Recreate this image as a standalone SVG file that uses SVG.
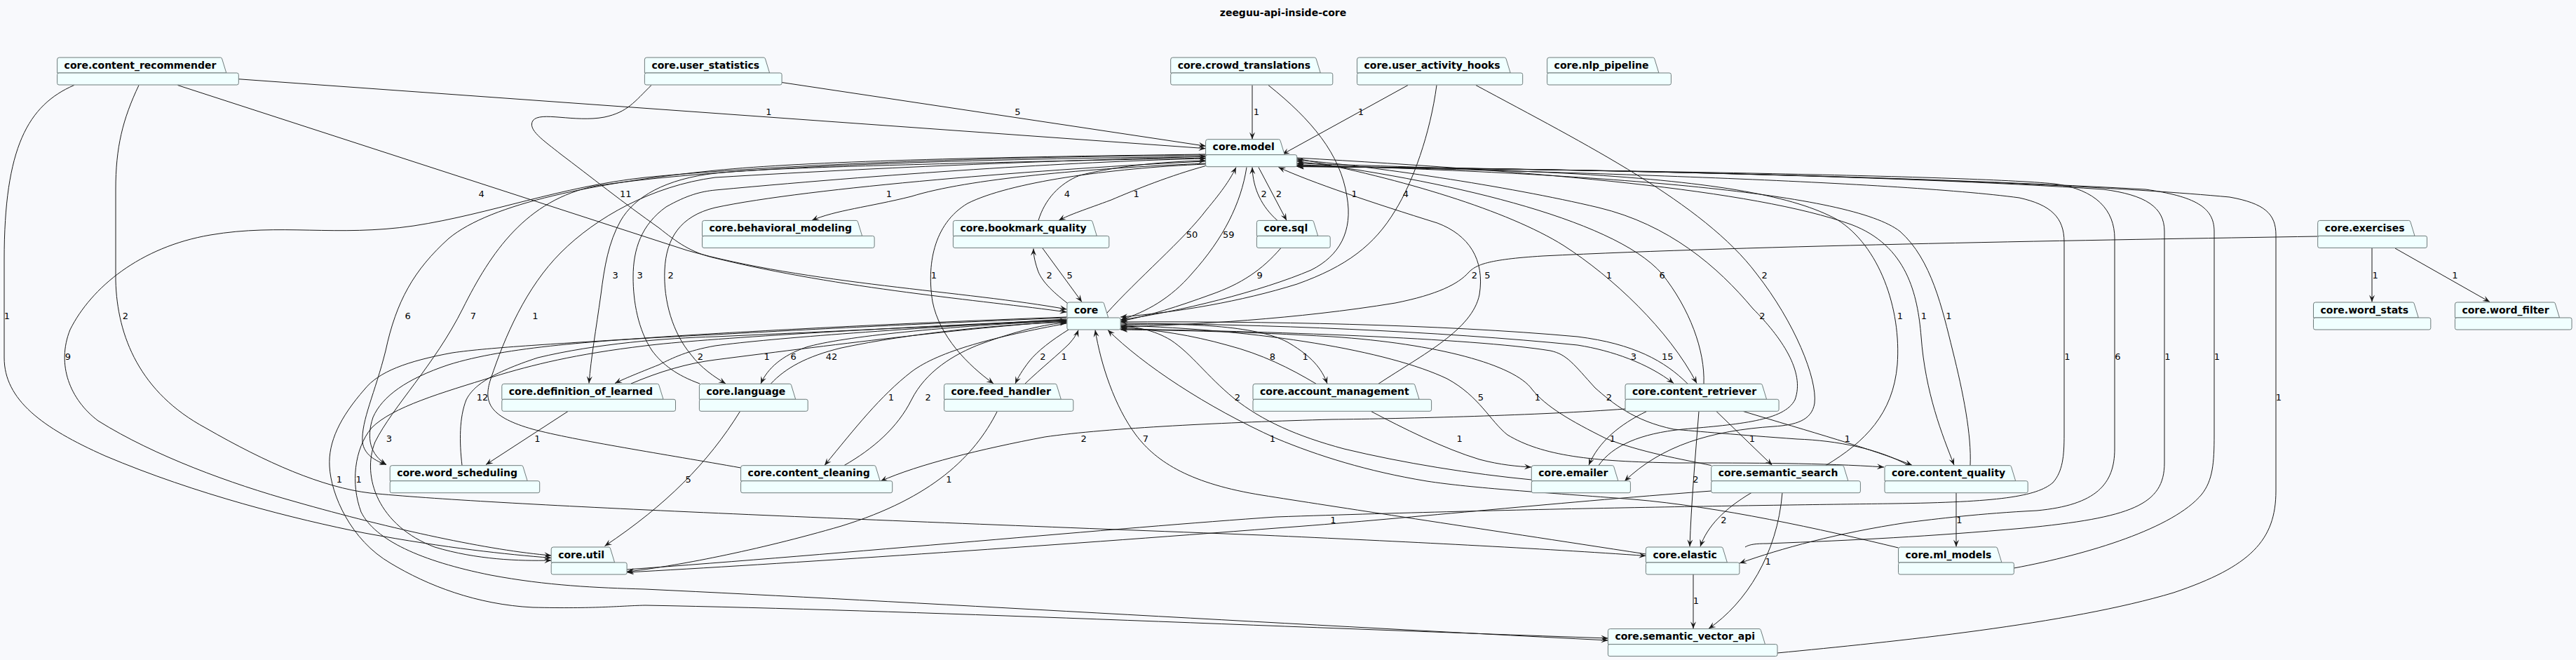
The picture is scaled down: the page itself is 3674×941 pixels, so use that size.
<svg xmlns="http://www.w3.org/2000/svg" width="3674" height="941" viewBox="0 0 3674 941">
<style>
.pk path,.pk rect{fill:#F0FFFF;stroke:#6E7B7B;stroke-width:1}
.pk text{font-family:"DejaVu Sans",sans-serif;font-weight:bold;font-size:14px;fill:#000}
.e{fill:none;stroke:#181818;stroke-width:1;marker-end:url(#ah)}
.lb{font-family:"DejaVu Sans",sans-serif;font-size:13px;fill:#000;text-anchor:middle}
.title{font-family:"DejaVu Sans",sans-serif;font-weight:bold;font-size:14px;fill:#000;text-anchor:middle}
</style>
<defs>
<marker id="ah" viewBox="-11 -5 12 10" refX="0" refY="0" markerWidth="12" markerHeight="10" markerUnits="userSpaceOnUse" orient="auto"><path d="M0,0 L-10,-4 L-6,0 L-10,4 Z" fill="#181818"/></marker>
</defs>
<rect width="3674" height="941" fill="#F8F9FC"/>
<text class="title" x="1830" y="23">zeeguu-api-inside-core</text>
<g id="connectors">
<path class="e" d="M339.7,112.7 L1719.6,211.7"/>
<path class="e" d="M1115,117.5 L1719.6,208.3"/>
<path class="e" d="M1786,121.5 L1786,198.5"/>
<path class="e" d="M2008,121.5 L1829,220"/>
<path class="e" d="M253.5,121.5 L980,357 C1150,405 1380,415 1521.5,441"/>
<path class="e" d="M929,121.5 C905,145 895,160 862,167 C820,175 770,158 760,172 C752,185 775,200 800,220 C840,250 890,290 940,325 C965,345 985,360 1020,368 C1200,412 1400,428 1521.5,445"/>
<path class="e" d="M1809,121.5 C1870,170 1912,220 1921,280 C1930,330 1910,365 1870,385 C1800,415 1680,445 1598.2,456"/>
<path class="e" d="M2049,121.5 C2040,190 2015,260 1990,300 C1960,350 1920,380 1850,405 C1770,430 1680,445 1598.2,452"/>
<path class="e" d="M2105,121.5 C2260,205 2430,290 2505,390 C2560,460 2592,540 2588,575 C2584,600 2560,606 2530,608 C2440,614 2370,635 2317,686"/>
<path class="e" d="M2280,663.6 C2300,635 2340,618 2400,612 C2480,605 2545,600 2560,570 C2575,530 2540,480 2500,440 C2450,380 2380,320 2280,296 C2150,265 1950,236 1849.7,228"/>
<path class="e" d="M3305.7,337 C3000,342 2500,350 2200,365 C2120,370 2105,378 2095,388 C2080,405 2050,420 1990,432 C1850,455 1700,463 1598.2,466"/>
<path class="e" d="M3383,353.5 L3383,430.5"/>
<path class="e" d="M3416,354 L3551,430.5"/>
<path class="e" d="M1719.6,233 C1550,240 1380,255 1300,280 C1240,295 1190,300 1158,314.3"/>
<path class="e" d="M1481,314.3 C1490,285 1510,262 1540,250 C1600,235 1670,230 1719.6,229"/>
<path class="e" d="M1719.6,236.5 C1670,250 1620,270 1585,285 C1550,298 1525,306 1510,314.3"/>
<path class="e" d="M1522,432 C1500,415 1485,400 1480,385 C1475,370 1474,362 1474,354.5"/>
<path class="e" d="M1487,354 L1543,430.5"/>
<path class="e" d="M1579,446 C1620,400 1690,340 1720,300 C1745,270 1755,255 1763,238.5"/>
<path class="e" d="M1778,238.5 C1770,290 1745,340 1700,390 C1670,425 1635,445 1598.2,456"/>
<path class="e" d="M1822,314.5 C1800,295 1787,270 1786,238.5"/>
<path class="e" d="M1795,238.5 L1835,314.3"/>
<path class="e" d="M1827,353.5 C1800,385 1770,405 1727,420 C1680,437 1640,450 1598.2,458"/>
<path class="e" d="M1966,547.2 C2030,505 2100,470 2110,420 C2118,370 2095,335 2050,318 C1960,290 1870,260 1823.5,238.5"/>
<path class="e" d="M1877,547.2 C1840,525 1800,505 1750,492 C1700,478 1650,470 1598.2,467"/>
<path class="e" d="M1598.2,463 C1700,460 1800,465 1840,490 C1870,508 1885,525 1893,547"/>
<path class="e" d="M1955.5,586.5 C2000,610 2060,640 2110,655 C2140,663 2165,665 2184,666"/>
<path class="e" d="M1524,470 C1500,485 1480,500 1468,515 C1458,528 1452,538 1448,547"/>
<path class="e" d="M1462,547 C1485,525 1510,505 1525,490 C1532,482 1536,476 1538,470.5"/>
<path class="e" d="M1719.6,234 C1580,240 1440,260 1380,290 C1330,320 1322,380 1330,430 C1340,480 1380,520 1417,547"/>
<path class="e" d="M1521.5,455 C1300,468 1100,482 1020,493 C980,500 960,510 940,520 C910,532 890,540 877,546.5"/>
<path class="e" d="M900,547 C940,530 980,518 1020,513 C1200,490 1400,465 1521.5,458"/>
<path class="e" d="M1521.5,457 C1350,465 1200,480 1150,495 C1115,507 1095,525 1085,547"/>
<path class="e" d="M1099.5,547 C1120,525 1150,508 1200,496 C1300,475 1420,463 1521.5,459"/>
<path class="e" d="M1719.6,230 C1500,240 1150,268 1020,296 C970,308 950,340 948,385 C946,430 960,475 985,505 C1000,525 1020,538 1035,547"/>
<path class="e" d="M998,547 C965,535 945,520 930,500 C910,470 903,430 903,395 C903,355 915,320 950,295 C980,278 1000,273 1020,271 C1300,245 1550,230 1719.6,226"/>
<path class="e" d="M1719.6,225 C1400,232 1100,238 1020,247 C950,255 905,280 885,315 C868,345 862,380 857,420 C850,470 843,510 840,546.5"/>
<path class="e" d="M659,663.6 C655,630 655,595 665,570 C675,550 700,532 767,510 C850,490 950,482 1020,480 C1200,472 1400,462 1521.5,457"/>
<path class="e" d="M1521.5,453 C1300,462 1150,470 1020,477 C850,485 720,495 640,520 C580,540 545,565 532,595 C522,625 528,648 551,662.5"/>
<path class="e" d="M1719.6,220 C1400,224 1150,230 1020,243 C850,260 700,290 640,340 C590,385 565,430 550,500 C535,560 515,600 517,630 C519,648 535,657 551,662.5"/>
<path class="e" d="M810,586.5 L693,662.5"/>
<path class="e" d="M1521.5,461 C1420,480 1340,500 1300,530 C1255,565 1220,610 1176,663.5"/>
<path class="e" d="M1204,663.6 C1245,640 1280,610 1300,570 C1320,530 1360,505 1400,490 C1450,472 1490,462 1521.5,460"/>
<path class="e" d="M1056.6,667 C950,648 820,628 760,612 C700,595 688,575 700,540 C720,480 750,410 800,360 C850,310 930,265 1020,253 C1300,236 1550,228 1719.6,223"/>
<path class="e" d="M1055.5,586.5 C1010,660 950,720 862.5,778.5"/>
<path class="e" d="M1422,587 C1390,650 1330,710 1200,750 C1080,785 960,808 894,815"/>
<path class="e" d="M1719.6,221 C1400,224 1100,235 920,253 C800,266 700,305 590,322 C480,338 400,318 300,335 C200,352 130,410 100,470 C80,520 100,570 140,600 C220,650 330,690 420,715 C560,755 700,785 786.2,792"/>
<path class="e" d="M1719.6,223 C1400,227 1050,235 850,265 C750,285 700,360 660,440 C620,520 560,580 535,630 C515,680 540,750 620,780 C680,798 740,800 786.2,799"/>
<path class="e" d="M105.6,121.5 C40,150 6,210 6,370 L6,510 C6,570 60,610 150,650 C280,705 420,740 520,760 C640,782 720,790 786.2,795.5"/>
<path class="e" d="M198,121.5 C175,170 165,210 165,270 L165,400 C167,480 200,560 293,610 C380,660 460,695 528,703 C700,720 1200,740 1800,763 C2000,772 2200,782 2347.4,792.5"/>
<path class="e" d="M2347.4,790 C2100,752 1900,722 1800,706 C1700,690 1650,660 1620,620 C1590,580 1570,520 1562,470.5"/>
<path class="e" d="M2707.5,781 C2600,755 2450,722 2330,712 C2200,702 2100,696 2035,686 C1950,672 1880,650 1820,625 C1720,580 1630,520 1580,470.5"/>
<path class="e" d="M2184.3,684 C2100,676 2000,660 1917,640 C1850,622 1800,600 1760,568 C1720,535 1700,505 1670,485 C1645,470 1620,466 1598.2,465"/>
<path class="e" d="M2318,583 C2200,592 2000,597 1900,598 C1750,602 1580,610 1490,623 C1400,640 1310,662 1256,686"/>
<path class="e" d="M1598.2,461 C1800,462 2050,472 2250,492 C2300,500 2350,518 2387,546.5"/>
<path class="e" d="M2407,547.2 C2375,515 2330,490 2250,480 C2050,462 1800,458 1598.2,459"/>
<path class="e" d="M1849.7,226 C2000,255 2150,300 2230,350 C2300,395 2380,470 2420,546.5"/>
<path class="e" d="M2430,547.2 C2432,500 2410,440 2370,390 C2300,310 2050,255 1849.7,230"/>
<path class="e" d="M1598.2,464 C1800,470 1980,500 2064,540 C2110,565 2125,600 2150,620 C2200,650 2270,658 2390,660 C2500,660 2600,660 2687,666"/>
<path class="e" d="M2722,663.6 C2680,640 2620,628 2563,626 C2480,620 2420,615 2387,612 C2330,600 2300,575 2275,553 C2245,520 2235,505 2211,500 C2100,482 1800,472 1598.2,469"/>
<path class="e" d="M2440.7,663.6 C2400,655 2340,645 2290,625 C2240,600 2205,580 2185,555 C2160,520 2050,490 1900,480 C1780,473 1680,471 1598.2,470"/>
<path class="e" d="M2604,663.6 C2660,630 2700,590 2706,520 C2712,440 2680,350 2620,313 C2560,280 2450,260 2250,248 C2100,240 1950,236 1849.7,233"/>
<path class="e" d="M1849.7,225 C2200,245 2500,270 2640,320 C2720,350 2735,420 2740,480 C2746,560 2770,620 2787,663"/>
<path class="e" d="M2810,663.6 C2812,620 2800,560 2785,500 C2770,440 2755,370 2710,330 C2640,275 2300,248 1849.7,235"/>
<path class="e" d="M2348.6,586.5 C2310,605 2280,630 2266,663"/>
<path class="e" d="M2423,586.5 C2418,650 2412,720 2410,779.3"/>
<path class="e" d="M2448,586.5 L2527.5,663.3"/>
<path class="e" d="M2486.5,586.5 C2580,615 2670,640 2727,663.3"/>
<path class="e" d="M2498,702.5 C2460,725 2435,750 2425,779.3"/>
<path class="e" d="M2542,702.5 C2535,790 2490,860 2437,896.3"/>
<path class="e" d="M2415,819 L2415,896.3"/>
<path class="e" d="M2440.7,700 C2200,718 2000,740 1820,753 C1500,778 1100,805 894,816"/>
<path class="e" d="M894,812 C1200,790 1600,752 1820,737 C2200,724 2550,720 2700,718 C2850,716 2905,708 2928,688 C2942,672 2944,650 2944,620 L2944,345 C2944,310 2925,292 2880,282 C2700,258 2200,244 1849.7,236"/>
<path class="e" d="M1849.7,237 C2300,243 2800,250 2930,262 C2990,270 3016,300 3016,340 L3016,640 C3016,690 2990,720 2905,728 C2824,732 2760,740 2720,745 C2620,760 2540,782 2481,803"/>
<path class="e" d="M2489,780 C2495,776 2505,775 2520,775 C2650,770 2750,765 2886,753 C3040,738 3087,720 3087,660 L3087,330 C3087,295 3060,278 3000,270 C2700,250 2200,240 1849.7,237"/>
<path class="e" d="M2872.4,810 C2980,790 3100,753 3140,705 C3156,685 3158,660 3158,620 L3158,330 C3158,295 3130,280 3060,270 C2700,250 2200,240 1849.7,237.5"/>
<path class="e" d="M2535,931 C2700,915 2950,890 3100,845 C3210,808 3246,770 3246,700 L3246,335 C3246,305 3230,290 3180,281 C2900,255 2300,241 1849.7,237.5"/>
<path class="e" d="M2790,702.6 L2790,779.5"/>
<path class="e" d="M1521.5,452 C1250,462 1000,476 920,482 C800,490 700,495 645,503 C580,515 540,530 520,555 C485,595 468,630 470,665 C472,705 500,770 557,803 C610,835 680,862 760,866 C850,868 880,864 920,863 C1300,870 1800,893 2293.4,910"/>
<path class="e" d="M1521.5,456 C1250,468 1000,483 920,493 C820,505 760,520 704,537 C630,560 560,580 530,610 C505,640 500,690 515,730 C535,770 600,800 700,820 C780,835 850,838 920,840 C1300,858 1800,888 2293.4,913"/>
<g class="lbs">
<text class="lb" x="1096.5" y="163.7">1</text><text class="lb" x="1451.5" y="163.7">5</text><text class="lb" x="1792" y="163.7">1</text><text class="lb" x="1940.8" y="163.7">1</text>
<text class="lb" x="686.7" y="281.4">4</text><text class="lb" x="892.3" y="281.4">11</text><text class="lb" x="1268" y="281.4">1</text><text class="lb" x="1522" y="281.4">4</text><text class="lb" x="1620.7" y="281.4">1</text><text class="lb" x="1802.7" y="281.4">2</text><text class="lb" x="1824" y="281.4">2</text><text class="lb" x="1931.7" y="281.4">1</text><text class="lb" x="2005" y="281.4">4</text>
<text class="lb" x="1700" y="339">50</text><text class="lb" x="1752.3" y="339">59</text>
<text class="lb" x="877.7" y="397.2">3</text><text class="lb" x="912.7" y="397.2">3</text><text class="lb" x="956.7" y="397.2">2</text><text class="lb" x="1332" y="397.2">1</text><text class="lb" x="1496.7" y="397.2">2</text><text class="lb" x="1525.7" y="397.2">5</text><text class="lb" x="1796.7" y="397.2">9</text><text class="lb" x="2103" y="397.2">2</text><text class="lb" x="2121.5" y="397.2">5</text><text class="lb" x="2295" y="397.2">1</text><text class="lb" x="2370.7" y="397.2">6</text><text class="lb" x="2516.7" y="397.2">2</text><text class="lb" x="3387.7" y="397.2">1</text><text class="lb" x="3501.4" y="397.2">1</text>
<text class="lb" x="10" y="454.7">1</text><text class="lb" x="179" y="454.7">2</text><text class="lb" x="581.7" y="454.7">6</text><text class="lb" x="675" y="454.7">7</text><text class="lb" x="763.3" y="454.7">1</text><text class="lb" x="2513.3" y="454.7">2</text><text class="lb" x="2710" y="454.7">1</text><text class="lb" x="2744" y="454.7">1</text><text class="lb" x="2779.5" y="454.7">1</text>
<text class="lb" x="96.8" y="513">9</text><text class="lb" x="999" y="513">2</text><text class="lb" x="1093.6" y="513">1</text><text class="lb" x="1131.7" y="513">6</text><text class="lb" x="1186" y="513">42</text><text class="lb" x="1487.3" y="513">2</text><text class="lb" x="1517.7" y="513">1</text><text class="lb" x="1815" y="513">8</text><text class="lb" x="1861.7" y="513">1</text><text class="lb" x="2330" y="513">3</text><text class="lb" x="2378.3" y="513">15</text><text class="lb" x="2948.5" y="513">1</text><text class="lb" x="3020.5" y="513">6</text><text class="lb" x="3091.4" y="513">1</text><text class="lb" x="3162" y="513">1</text>
<text class="lb" x="3250" y="571.4">1</text><text class="lb" x="688" y="571.4">12</text><text class="lb" x="1270.8" y="571.4">1</text><text class="lb" x="1323.6" y="571.4">2</text><text class="lb" x="1765" y="571.4">2</text><text class="lb" x="2112" y="571.4">5</text><text class="lb" x="2193" y="571.4">1</text><text class="lb" x="2295" y="571.4">2</text>
<text class="lb" x="555" y="630.4">3</text><text class="lb" x="766.5" y="630.4">1</text><text class="lb" x="1545.7" y="630.4">2</text><text class="lb" x="1634" y="630.4">7</text><text class="lb" x="1815" y="630.4">1</text><text class="lb" x="2081.6" y="630.4">1</text><text class="lb" x="2300" y="630.4">1</text><text class="lb" x="2499" y="630.4">1</text><text class="lb" x="2635" y="630.4">1</text>
<text class="lb" x="484" y="688">1</text><text class="lb" x="511.7" y="688">1</text><text class="lb" x="981.7" y="688">5</text><text class="lb" x="1353.5" y="688">1</text><text class="lb" x="2418.3" y="688">2</text>
<text class="lb" x="1901.5" y="746.4">1</text><text class="lb" x="2458.3" y="746.4">2</text><text class="lb" x="2794.4" y="746.4">1</text>
<text class="lb" x="2521.6" y="804.7">1</text><text class="lb" x="2419" y="861.4">1</text>
</g>
</g>
<g id="n-content_recommender" class="pk"><path d="M81.6,104 L81.6,85 Q81.6,82 84.6,82 L314.3,82 Q316.3,82 316.7,84 L322.8,104 Z"/><rect x="81.6" y="104" width="258.7" height="17" rx="2.5"/><text x="91.6" y="97.5">core.content_recommender</text></g>
<g id="n-user_statistics" class="pk"><path d="M919.4,104 L919.4,85 Q919.4,82 922.4,82 L1089.1,82 Q1091.1,82 1091.5,84 L1097.6,104 Z"/><rect x="919.4" y="104" width="195.7" height="17" rx="2.5"/><text x="929.4" y="97.5">core.user_statistics</text></g>
<g id="n-crowd_translations" class="pk"><path d="M1669.7,104 L1669.7,85 Q1669.7,82 1672.7,82 L1874.8,82 Q1876.8,82 1877.2,84 L1883.3,104 Z"/><rect x="1669.7" y="104" width="231.1" height="17" rx="2.5"/><text x="1679.7" y="97.5">core.crowd_translations</text></g>
<g id="n-user_activity_hooks" class="pk"><path d="M1935.5,104 L1935.5,85 Q1935.5,82 1938.5,82 L2145.7,82 Q2147.7,82 2148.1,84 L2154.2,104 Z"/><rect x="1935.5" y="104" width="236.2" height="17" rx="2.5"/><text x="1945.5" y="97.5">core.user_activity_hooks</text></g>
<g id="n-nlp_pipeline" class="pk"><path d="M2206.6,104 L2206.6,85 Q2206.6,82 2209.6,82 L2357.4,82 Q2359.4,82 2359.8,84 L2365.9,104 Z"/><rect x="2206.6" y="104" width="176.8" height="17" rx="2.5"/><text x="2216.6" y="97.5">core.nlp_pipeline</text></g>
<g id="n-model" class="pk"><path d="M1719.6,220.7 L1719.6,201.7 Q1719.6,198.7 1722.6,198.7 L1823.7,198.7 Q1825.7,198.7 1826.1,200.7 L1832.2,220.7 Z"/><rect x="1719.6" y="220.7" width="130.1" height="17" rx="2.5"/><text x="1729.6" y="214.2">core.model</text></g>
<g id="n-behavioral_modeling" class="pk"><path d="M1001.5,336.4 L1001.5,317.4 Q1001.5,314.4 1004.5,314.4 L1221.1,314.4 Q1223.1,314.4 1223.5,316.4 L1229.6,336.4 Z"/><rect x="1001.5" y="336.4" width="245.6" height="17" rx="2.5"/><text x="1011.5" y="329.9">core.behavioral_modeling</text></g>
<g id="n-bookmark_quality" class="pk"><path d="M1359.4,336.4 L1359.4,317.4 Q1359.4,314.4 1362.4,314.4 L1555.8,314.4 Q1557.8,314.4 1558.2,316.4 L1564.3,336.4 Z"/><rect x="1359.4" y="336.4" width="222.4" height="17" rx="2.5"/><text x="1369.4" y="329.9">core.bookmark_quality</text></g>
<g id="n-sql" class="pk"><path d="M1792.4,336.4 L1792.4,317.4 Q1792.4,314.4 1795.4,314.4 L1871.2,314.4 Q1873.2,314.4 1873.6,316.4 L1879.7,336.4 Z"/><rect x="1792.4" y="336.4" width="104.8" height="17" rx="2.5"/><text x="1802.4" y="329.9">core.sql</text></g>
<g id="n-exercises" class="pk"><path d="M3305.7,336.4 L3305.7,317.4 Q3305.7,314.4 3308.7,314.4 L3435.5,314.4 Q3437.5,314.4 3437.9,316.4 L3444,336.4 Z"/><rect x="3305.7" y="336.4" width="155.8" height="17" rx="2.5"/><text x="3315.7" y="329.9">core.exercises</text></g>
<g id="n-core" class="pk"><path d="M1521.9,453 L1521.9,434 Q1521.9,431 1524.9,431 L1572.2,431 Q1574.2,431 1574.6,433 L1580.7,453 Z"/><rect x="1521.9" y="453" width="76.3" height="17" rx="2.5"/><text x="1531.9" y="446.5">core</text></g>
<g id="n-word_stats" class="pk"><path d="M3299.5,453 L3299.5,434 Q3299.5,431 3302.5,431 L3440.8,431 Q3442.8,431 3443.2,433 L3449.3,453 Z"/><rect x="3299.5" y="453" width="167.3" height="17" rx="2.5"/><text x="3309.5" y="446.5">core.word_stats</text></g>
<g id="n-word_filter" class="pk"><path d="M3501.4,453 L3501.4,434 Q3501.4,431 3504.4,431 L3642,431 Q3644,431 3644.4,433 L3650.5,453 Z"/><rect x="3501.4" y="453" width="166.6" height="17" rx="2.5"/><text x="3511.4" y="446.5">core.word_filter</text></g>
<g id="n-definition_of_learned" class="pk"><path d="M715.8,569.3 L715.8,550.3 Q715.8,547.3 718.8,547.3 L937.5,547.3 Q939.5,547.3 939.9,549.3 L946,569.3 Z"/><rect x="715.8" y="569.3" width="247.7" height="17" rx="2.5"/><text x="725.8" y="562.8">core.definition_of_learned</text></g>
<g id="n-language" class="pk"><path d="M997.4,569.3 L997.4,550.3 Q997.4,547.3 1000.4,547.3 L1126.2,547.3 Q1128.2,547.3 1128.6,549.3 L1134.7,569.3 Z"/><rect x="997.4" y="569.3" width="154.8" height="17" rx="2.5"/><text x="1007.4" y="562.8">core.language</text></g>
<g id="n-feed_handler" class="pk"><path d="M1346.5,569.3 L1346.5,550.3 Q1346.5,547.3 1349.5,547.3 L1504.8,547.3 Q1506.8,547.3 1507.2,549.3 L1513.3,569.3 Z"/><rect x="1346.5" y="569.3" width="184.3" height="17" rx="2.5"/><text x="1356.5" y="562.8">core.feed_handler</text></g>
<g id="n-account_management" class="pk"><path d="M1787,569.3 L1787,550.3 Q1787,547.3 1790,547.3 L2015.6,547.3 Q2017.6,547.3 2018,549.3 L2024.1,569.3 Z"/><rect x="1787" y="569.3" width="254.6" height="17" rx="2.5"/><text x="1797" y="562.8">core.account_management</text></g>
<g id="n-content_retriever" class="pk"><path d="M2318,569.3 L2318,550.3 Q2318,547.3 2321,547.3 L2511.1,547.3 Q2513.1,547.3 2513.5,549.3 L2519.6,569.3 Z"/><rect x="2318" y="569.3" width="219.1" height="17" rx="2.5"/><text x="2328" y="562.8">core.content_retriever</text></g>
<g id="n-word_scheduling" class="pk"><path d="M556.2,685.7 L556.2,666.7 Q556.2,663.7 559.2,663.7 L743.7,663.7 Q745.7,663.7 746.1,665.7 L752.2,685.7 Z"/><rect x="556.2" y="685.7" width="213.5" height="17" rx="2.5"/><text x="566.2" y="679.2">core.word_scheduling</text></g>
<g id="n-content_cleaning" class="pk"><path d="M1056.6,685.7 L1056.6,666.7 Q1056.6,663.7 1059.6,663.7 L1246.7,663.7 Q1248.7,663.7 1249.1,665.7 L1255.2,685.7 Z"/><rect x="1056.6" y="685.7" width="216.1" height="17" rx="2.5"/><text x="1066.6" y="679.2">core.content_cleaning</text></g>
<g id="n-emailer" class="pk"><path d="M2184.3,685.7 L2184.3,666.7 Q2184.3,663.7 2187.3,663.7 L2299.4,663.7 Q2301.4,663.7 2301.8,665.7 L2307.9,685.7 Z"/><rect x="2184.3" y="685.7" width="141.1" height="17" rx="2.5"/><text x="2194.3" y="679.2">core.emailer</text></g>
<g id="n-semantic_search" class="pk"><path d="M2440.7,685.7 L2440.7,666.7 Q2440.7,663.7 2443.7,663.7 L2627.4,663.7 Q2629.4,663.7 2629.8,665.7 L2635.9,685.7 Z"/><rect x="2440.7" y="685.7" width="212.7" height="17" rx="2.5"/><text x="2450.7" y="679.2">core.semantic_search</text></g>
<g id="n-content_quality" class="pk"><path d="M2688,685.7 L2688,666.7 Q2688,663.7 2691,663.7 L2866.2,663.7 Q2868.2,663.7 2868.6,665.7 L2874.7,685.7 Z"/><rect x="2688" y="685.7" width="204.2" height="17" rx="2.5"/><text x="2698" y="679.2">core.content_quality</text></g>
<g id="n-util" class="pk"><path d="M786.2,802 L786.2,783 Q786.2,780 789.2,780 L868.1,780 Q870.1,780 870.5,782 L876.6,802 Z"/><rect x="786.2" y="802" width="107.9" height="17" rx="2.5"/><text x="796.2" y="795.5">core.util</text></g>
<g id="n-elastic" class="pk"><path d="M2347.4,802 L2347.4,783 Q2347.4,780 2350.4,780 L2454.9,780 Q2456.9,780 2457.3,782 L2463.4,802 Z"/><rect x="2347.4" y="802" width="133.5" height="17" rx="2.5"/><text x="2357.4" y="795.5">core.elastic</text></g>
<g id="n-ml_models" class="pk"><path d="M2707.5,802 L2707.5,783 Q2707.5,780 2710.5,780 L2846.4,780 Q2848.4,780 2848.8,782 L2854.9,802 Z"/><rect x="2707.5" y="802" width="164.9" height="17" rx="2.5"/><text x="2717.5" y="795.5">core.ml_models</text></g>
<g id="n-semantic_vector_api" class="pk"><path d="M2293.4,918.6 L2293.4,899.6 Q2293.4,896.6 2296.4,896.6 L2509,896.6 Q2511,896.6 2511.4,898.6 L2517.5,918.6 Z"/><rect x="2293.4" y="918.6" width="241.6" height="17" rx="2.5"/><text x="2303.4" y="912.1">core.semantic_vector_api</text></g>
</svg>
